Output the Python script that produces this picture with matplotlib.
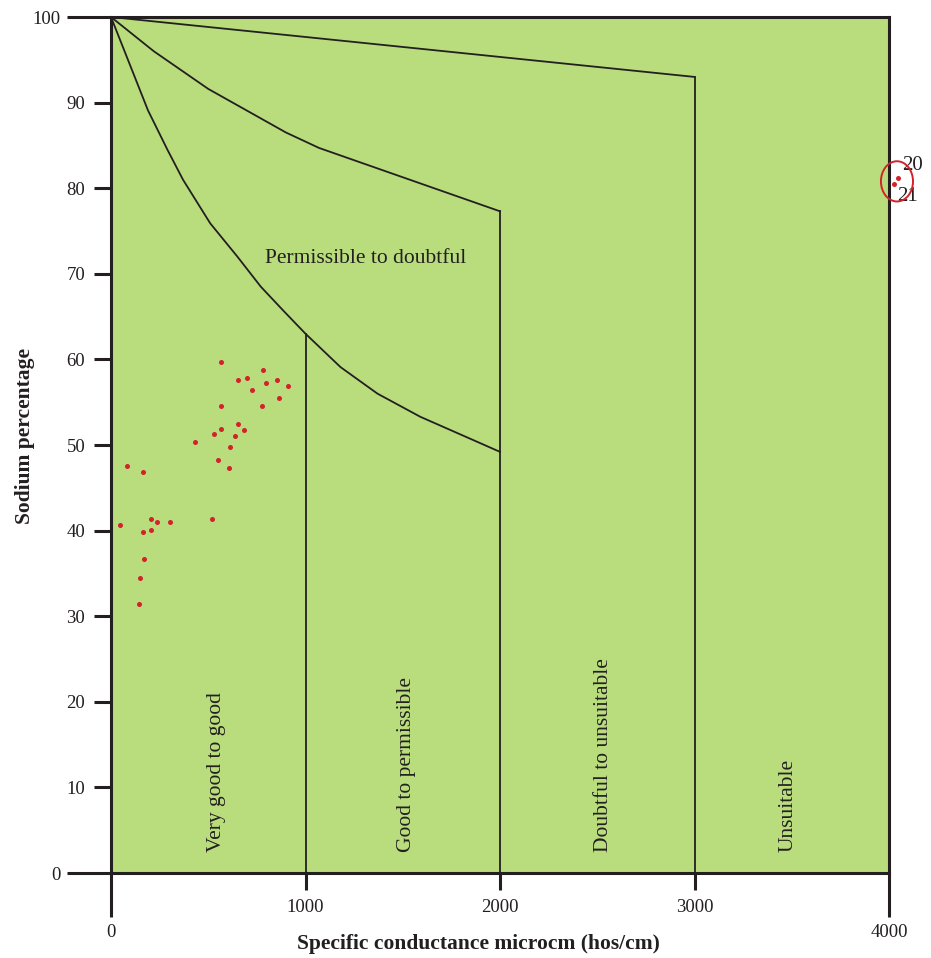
import numpy as np
import matplotlib.pyplot as plt
from matplotlib.patches import Ellipse

plt.rcParams['font.family'] = ['Liberation Serif', 'DejaVu Serif']

ink = '#231f20'
green = '#b9dc7d'
red = '#d2232a'

# boundary curves of the Wilcox diagram (EC, Na%)
curve1_x = [0, 190, 290, 370, 510, 650, 770, 890, 1000, 1180, 1370, 1590, 1800, 2000]
curve1_y = [100, 89.1, 84.5, 81.0, 75.9, 72.0, 68.5, 65.6, 63, 59.1, 56.0, 53.3, 51.2, 49.2]
curve2_x = [0, 220, 500, 900, 1070, 2000]
curve2_y = [100, 96, 91.6, 86.5, 84.7, 77.3]
curve3_x = [0, 3000]
curve3_y = [100, 93]

# sample points
ec = [566, 780, 651, 699, 799, 855, 908, 723, 866, 566, 778, 655, 564, 531,
      682, 636, 434, 612, 550, 608, 84, 163, 207, 237, 303, 519, 48, 166,
      206, 168, 151, 146]
na = [59.7, 58.8, 57.6, 57.8, 57.2, 57.6, 56.9, 56.4, 55.5, 54.6, 54.6, 52.4,
      51.9, 51.3, 51.8, 51.0, 50.3, 49.8, 48.2, 47.3, 47.6, 46.9, 41.4, 41.0,
      41.0, 41.3, 40.6, 39.8, 40.1, 36.7, 34.5, 31.4]
out_ec = [4045, 4024]
out_na = [81.15, 80.5]
out_lab = ['20', '21']

zones = ['Very good to good', 'Good to permissible', 'Doubtful to unsuitable', 'Unsuitable']
zone_x = [543, 1520, 2531, 3482]

fig = plt.figure(figsize=(9.31, 9.58), dpi=100)
ax = fig.add_axes([111 / 931, 85 / 958, 778 / 931, 856 / 958])
ax.set_facecolor(green)
ax.set_xlim(0, 4000)
ax.set_ylim(0, 100)

lw = 1.3
ax.plot(curve1_x, curve1_y, color=ink, lw=lw)
ax.plot(curve2_x, curve2_y, color=ink, lw=lw)
ax.plot(curve3_x, curve3_y, color=ink, lw=lw)
ax.plot([1000, 1000], [0, curve1_y[curve1_x.index(1000)]], color=ink, lw=lw)
ax.plot([2000, 2000], [0, curve2_y[-1]], color=ink, lw=lw)
ax.plot([3000, 3000], [0, curve3_y[-1]], color=ink, lw=lw)

ax.scatter(ec, na, s=13, color=red, zorder=3, linewidths=0)
ax.scatter(out_ec, out_na, s=13, color=red, zorder=3, linewidths=0, clip_on=False)
ax.add_patch(Ellipse((4041, 80.8), 165, 4.7, fill=False, edgecolor=red, lw=1.4,
                     clip_on=False, zorder=4))
ax.text(4120, 82.6, out_lab[0], fontsize=15, color=ink, ha='center', va='center')
ax.text(4094, 79.0, out_lab[1], fontsize=15, color=ink, ha='center', va='center')

ax.text(1310, 71.8, 'Permissible to doubtful', fontsize=15.5, color=ink,
        ha='center', va='center')
for name, zx in zip(zones, zone_x):
    ax.text(zx, 2.4, name, fontsize=15.5, color=ink, rotation=90,
            ha='center', va='bottom')

for s in ax.spines.values():
    s.set_linewidth(2.2)
    s.set_color(ink)

# long ticks at the ends, short ones inside
ax.set_xticks([0, 4000], ['0', '4000'])
ax.set_xticks([1000, 2000, 3000], ['1000', '2000', '3000'], minor=True)
ax.set_yticks([0, 100], ['0', '100'])
ax.set_yticks(range(10, 100, 10), [str(v) for v in range(10, 100, 10)], minor=True)
ax.tick_params(which='major', length=31.5, width=2.2, color=ink, labelsize=13.5,
               labelcolor=ink, pad=5)
ax.tick_params(which='minor', length=12.5, width=2.2, color=ink, labelsize=13.5,
               labelcolor=ink, pad=6)

fig.text(478 / 931, 1 - 944 / 958, 'Specific conductance microcm (hos/cm)',
         fontsize=15.5, fontweight='bold', color=ink, ha='center', va='center')
fig.text(25 / 931, 1 - 436 / 958, 'Sodium percentage', fontsize=15.5,
         fontweight='bold', color=ink, rotation=90, ha='center', va='center')

fig.savefig('out.png', dpi=100)
